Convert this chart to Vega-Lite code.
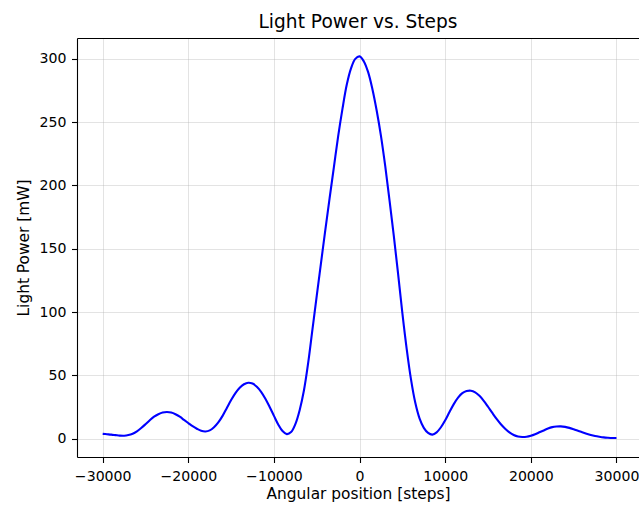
{
  "$schema": "https://vega.github.io/schema/vega-lite/v6.json",
  "width": 562,
  "height": 419,
  "autosize": {"type": "none"},
  "padding": {"left": 77, "top": 38, "right": 0, "bottom": 49},
  "background": "white",
  "config": {
    "view": {"stroke": null},
    "font": "DejaVu Sans",
    "axis": {
      "labelFont": "DejaVu Sans",
      "titleFont": "DejaVu Sans",
      "labelFontSize": 14.1,
      "titleFontSize": 15.4,
      "labelColor": "#000000",
      "titleColor": "#000000",
      "titleFontWeight": "normal",
      "domainColor": "#000000",
      "domainWidth": 1.1,
      "tickColor": "#000000",
      "tickWidth": 1.1,
      "tickSize": 5.5,
      "labelPadding": 5.5,
      "gridColor": "#b0b0b0",
      "gridOpacity": 0.35,
      "gridWidth": 1
    }
  },
  "title": {
    "text": "Light Power vs. Steps",
    "font": "DejaVu Sans",
    "fontSize": 18.6,
    "fontWeight": "normal",
    "color": "#000000",
    "anchor": "middle",
    "offset": 6
  },
  "data": {
    "values": [
      {"steps": -30000, "power": 3.8},
      {"steps": -29500, "power": 3.5},
      {"steps": -29000, "power": 3.2},
      {"steps": -28500, "power": 2.8},
      {"steps": -28000, "power": 2.4},
      {"steps": -27500, "power": 2.3},
      {"steps": -27000, "power": 2.8},
      {"steps": -26500, "power": 3.9},
      {"steps": -26000, "power": 5.8},
      {"steps": -25500, "power": 8.4},
      {"steps": -25000, "power": 11.4},
      {"steps": -24500, "power": 14.6},
      {"steps": -24000, "power": 17.4},
      {"steps": -23500, "power": 19.3},
      {"steps": -23000, "power": 20.6},
      {"steps": -22500, "power": 21.0},
      {"steps": -22000, "power": 20.6},
      {"steps": -21500, "power": 19.3},
      {"steps": -21000, "power": 17.3},
      {"steps": -20500, "power": 14.8},
      {"steps": -20000, "power": 12.3},
      {"steps": -19500, "power": 9.8},
      {"steps": -19000, "power": 7.8},
      {"steps": -18500, "power": 6.2},
      {"steps": -18000, "power": 5.7},
      {"steps": -17500, "power": 6.5},
      {"steps": -17000, "power": 9.0},
      {"steps": -16500, "power": 12.8},
      {"steps": -16000, "power": 18.0},
      {"steps": -15500, "power": 24.3},
      {"steps": -15000, "power": 30.5},
      {"steps": -14500, "power": 36.0},
      {"steps": -14000, "power": 40.2},
      {"steps": -13500, "power": 43.0},
      {"steps": -13000, "power": 44.2},
      {"steps": -12500, "power": 43.5},
      {"steps": -12000, "power": 41.0},
      {"steps": -11500, "power": 37.0},
      {"steps": -11000, "power": 31.5},
      {"steps": -10500, "power": 25.0},
      {"steps": -10000, "power": 18.0},
      {"steps": -9500, "power": 11.2},
      {"steps": -9000, "power": 6.0},
      {"steps": -8500, "power": 3.6},
      {"steps": -8000, "power": 5.2},
      {"steps": -7500, "power": 11.5},
      {"steps": -7000, "power": 22.5},
      {"steps": -6500, "power": 38.0},
      {"steps": -6000, "power": 60.0},
      {"steps": -5500, "power": 86.5},
      {"steps": -5000, "power": 113.0},
      {"steps": -4500, "power": 139.0},
      {"steps": -4000, "power": 165.0},
      {"steps": -3500, "power": 190.0},
      {"steps": -3000, "power": 214.5},
      {"steps": -2500, "power": 239.0},
      {"steps": -2000, "power": 260.5},
      {"steps": -1500, "power": 279.5},
      {"steps": -1000, "power": 292.5},
      {"steps": -500, "power": 300.0},
      {"steps": 0, "power": 302.0},
      {"steps": 500, "power": 298.0},
      {"steps": 1000, "power": 289.5},
      {"steps": 1500, "power": 276.0},
      {"steps": 2000, "power": 259.0},
      {"steps": 2500, "power": 239.0},
      {"steps": 3000, "power": 215.0},
      {"steps": 3500, "power": 188.0},
      {"steps": 4000, "power": 160.0},
      {"steps": 4500, "power": 130.0},
      {"steps": 5000, "power": 99.0},
      {"steps": 5500, "power": 71.0},
      {"steps": 6000, "power": 47.0},
      {"steps": 6500, "power": 28.5},
      {"steps": 7000, "power": 16.0},
      {"steps": 7500, "power": 8.5},
      {"steps": 8000, "power": 4.5},
      {"steps": 8500, "power": 3.2},
      {"steps": 9000, "power": 5.0},
      {"steps": 9500, "power": 9.0},
      {"steps": 10000, "power": 14.5},
      {"steps": 10500, "power": 21.0},
      {"steps": 11000, "power": 27.3},
      {"steps": 11500, "power": 32.4},
      {"steps": 12000, "power": 35.9},
      {"steps": 12500, "power": 37.6},
      {"steps": 13000, "power": 37.9},
      {"steps": 13500, "power": 36.6},
      {"steps": 14000, "power": 33.8},
      {"steps": 14500, "power": 29.9},
      {"steps": 15000, "power": 25.2},
      {"steps": 15500, "power": 20.3},
      {"steps": 16000, "power": 15.6},
      {"steps": 16500, "power": 11.4},
      {"steps": 17000, "power": 7.9},
      {"steps": 17500, "power": 5.0},
      {"steps": 18000, "power": 2.9},
      {"steps": 18500, "power": 1.7},
      {"steps": 19000, "power": 1.3},
      {"steps": 19500, "power": 1.5},
      {"steps": 20000, "power": 2.3},
      {"steps": 20500, "power": 3.5},
      {"steps": 21000, "power": 5.0},
      {"steps": 21500, "power": 6.5},
      {"steps": 22000, "power": 8.0},
      {"steps": 22500, "power": 9.1},
      {"steps": 23000, "power": 9.6},
      {"steps": 23500, "power": 9.7},
      {"steps": 24000, "power": 9.3},
      {"steps": 24500, "power": 8.5},
      {"steps": 25000, "power": 7.4},
      {"steps": 25500, "power": 6.2},
      {"steps": 26000, "power": 5.0},
      {"steps": 26500, "power": 3.9},
      {"steps": 27000, "power": 2.9},
      {"steps": 27500, "power": 2.1},
      {"steps": 28000, "power": 1.5},
      {"steps": 28500, "power": 1.0},
      {"steps": 29000, "power": 0.7},
      {"steps": 29500, "power": 0.5},
      {"steps": 30000, "power": 0.5}
    ]
  },
  "layer": [
    {
      "mark": {"type": "line", "color": "#0000ff", "strokeWidth": 2.1, "interpolate": "catmull-rom"},
      "encoding": {
        "x": {
          "field": "steps",
          "type": "quantitative",
          "scale": {"domain": [-33000, 32630], "nice": false, "zero": false},
          "axis": {
            "orient": "bottom",
            "values": [-30000, -20000, -10000, 0, 10000, 20000, 30000],
            "format": "d",
            "title": "Angular position [steps]",
            "labelPadding": 7,
            "titlePadding": 3,
            "labelFlush": false,
            "labelOverlap": false
          }
        },
        "y": {
          "field": "power",
          "type": "quantitative",
          "scale": {"domain": [-14.5, 316.5], "nice": false, "zero": false},
          "axis": {
            "values": [0, 50, 100, 150, 200, 250, 300],
            "title": "Light Power [mW]",
            "titlePadding": 8,
            "labelFlush": false,
            "labelOverlap": false
          }
        }
      }
    },
    {
      "mark": {"type": "line", "opacity": 0},
      "encoding": {
        "x": {
          "field": "steps",
          "type": "quantitative",
          "axis": {"orient": "top", "labels": false, "ticks": false, "grid": false, "title": null}
        },
        "y": {"field": "power", "type": "quantitative"}
      }
    }
  ],
  "resolve": {"axis": {"x": "independent"}}
}
